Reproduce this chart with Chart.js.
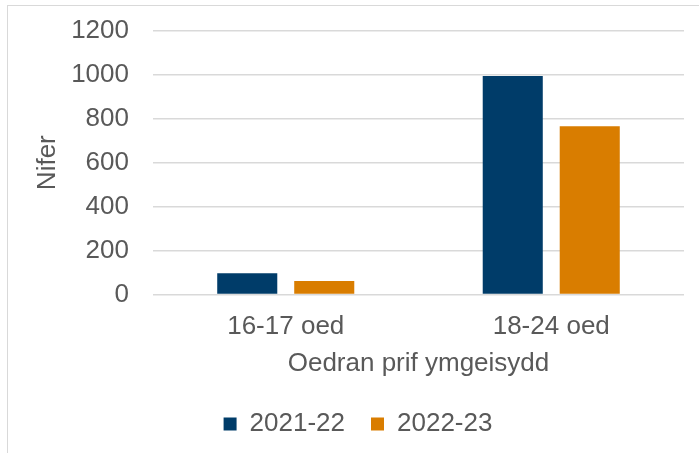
<!DOCTYPE html>
<html>
<head>
<meta charset="utf-8">
<script src="https://cdn.jsdelivr.net/npm/chart.js@4"></script>
<style>
  html, body { margin: 0; padding: 0; background: #fff; }
  #frame {
    position: absolute; left: 7px; top: 5px; width: 700px; height: 460px;
    border: 1.5px solid #d9d9d9; box-sizing: border-box;
  }
  #wrap { position: absolute; left: 0; top: 0; width: 699px; height: 453px; }
</style>
</head>
<body>
<div id="frame"></div>
<div id="wrap"><canvas id="chart"></canvas></div>
<script>
// Oedran prif ymgeisydd – nifer
const categories = ["16-17 oed", "18-24 oed"];
const seriesNames = ["2021-22", "2022-23"];
const values2122 = [96, 995];
const values2223 = [61, 766];
const yTicks = [0, 200, 400, 600, 800, 1000, 1200];

const NAVY = "#003c69";
const ORANGE = "#d97d00";
const TEXT = "#595959";
const FONT = "'Liberation Sans', Arial, sans-serif";
const SIZE = 26;

const ctx = document.getElementById("chart").getContext("2d");
new Chart(ctx, {
  type: "bar",
  data: {
    labels: categories,
    datasets: [
      { label: seriesNames[0], data: values2122, backgroundColor: NAVY },
      { label: seriesNames[1], data: values2223, backgroundColor: ORANGE },
    ],
  },
  options: {
    responsive: true,
    maintainAspectRatio: false,
    animation: false,
    categoryPercentage: 0.58,
    barPercentage: 0.78,
    layout: { padding: { left: 32, right: 15, top: 31, bottom: 6 } },
    plugins: {
      legend: {
        position: "bottom",
        labels: {
          color: TEXT,
          font: { family: FONT, size: SIZE },
          boxWidth: 13,
          boxHeight: 13,
          padding: 26,
        },
      },
      tooltip: { enabled: false },
    },
    scales: {
      x: {
        afterFit: (axis) => { axis.height = 90.6; },
        grid: { display: false },
        border: { display: false },
        ticks: { color: TEXT, font: { family: FONT, size: SIZE }, padding: 9 },
        title: {
          display: true,
          text: "Oedran prif ymgeisydd",
          color: TEXT,
          font: { family: FONT, size: SIZE },
          padding: { top: 0, bottom: 6 },
        },
      },
      y: {
        min: 0,
        max: 1200,
        afterFit: (axis) => {
          axis.width = 121;
          axis.paddingTop = 0;
          axis.paddingBottom = 0;
        },
        afterBuildTicks: (axis) => { axis.ticks = yTicks.map((v) => ({ value: v })); },
        grid: { color: "#d9d9d9", lineWidth: 1.5, drawTicks: false },
        border: { display: false },
        ticks: {
          color: TEXT,
          font: { family: FONT, size: SIZE },
          padding: 24,
          callback: (v) => String(v),
        },
        title: {
          display: true,
          text: "Nifer",
          color: TEXT,
          font: { family: FONT, size: SIZE },
          padding: { top: 0, bottom: 7 },
        },
      },
    },
  },
});
</script>
</body>
</html>
